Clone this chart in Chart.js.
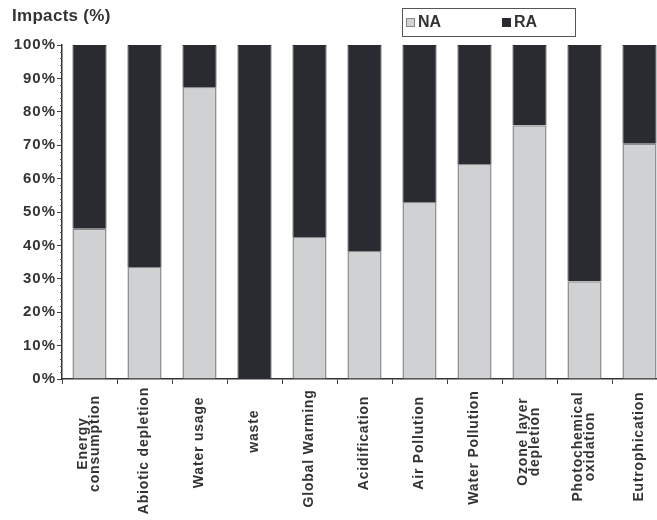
<!DOCTYPE html>
<html>
<head>
<meta charset="utf-8">
<script src="https://cdn.jsdelivr.net/npm/chart.js@4.4.1/dist/chart.umd.min.js"></script>
<style>
  html, body { margin: 0; padding: 0; background: #fff; overflow: hidden; }
  #wrap { position: relative; width: 672px; height: 520px; }
  #title { position: absolute; left: 12px; top: 6px; font: bold 17px "Liberation Sans", Arial, sans-serif; color: #333; letter-spacing: 0.3px; }
  #legend { position: absolute; left: 402px; top: 8px; width: 172px; height: 27px; border: 1px solid #555; font: bold 16px "Liberation Sans", Arial, sans-serif; color: #333; }
  #legend span.sw { display: inline-block; width: 9px; height: 9px; margin-right: 3px; }
  #legend .it { position: absolute; top: 4px; }
</style>
</head>
<body>
<div id="wrap">
  <canvas id="chart" width="672" height="520"></canvas>
  <div id="title">Impacts (%)</div>
  <div id="legend">
    <div class="it" style="left:3px"><span class="sw" style="background:#d2d3d5;border:1px solid #888;width:7px;height:7px"></span>NA</div>
    <div class="it" style="left:99px"><span class="sw" style="background:#2a2b30"></span>RA</div>
  </div>
</div>
<script>
document.addEventListener('DOMContentLoaded', () => {
    // categories and values (percent share of each impact)
    const categories = [
        ['Energy', 'consumption'], 'Abiotic depletion', 'Water usage', 'waste',
        'Global Warming', 'Acidification', 'Air Pollution', 'Water Pollution',
        ['Ozone layer', 'depletion'], ['Photochemical', 'oxidation'], 'Eutrophication'
    ];
    const naValues = [45, 33.5, 87.4, 0, 42.5, 38.3, 53, 64.4, 76, 29.3, 70.4];
    const raValues = [55, 66.5, 12.6, 100, 57.5, 61.7, 47, 35.6, 24, 70.7, 29.6];
    const yTicks = [0, 10, 20, 30, 40, 50, 60, 70, 80, 90, 100];

    const fontFamily = '"Liberation Sans", Arial, sans-serif';

    // wider letter spacing like the scanned original
    const spacing = {
        id: 'spacing',
        beforeDraw(chart) { chart.ctx.letterSpacing = '1px'; }
    };

    // small minor ticks on the y axis
    const minorTicks = {
        id: 'minorTicks',
        afterDraw(chart) {
            const y = chart.scales.y;
            const ctx = chart.ctx;
            const left = chart.chartArea.left;
            ctx.save();
            ctx.strokeStyle = '#555';
            ctx.lineWidth = 1;
            for (let v = 0; v <= 100; v += 2) {
                if (yTicks.includes(v)) continue;
                const py = Math.round(y.getPixelForValue(v)) + 0.5;
                ctx.beginPath();
                ctx.moveTo(left - 2, py);
                ctx.lineTo(left, py);
                ctx.stroke();
            }
            ctx.restore();
        }
    };

    // rotated category labels, lines centred on each other
    const xLabels = {
        id: 'xLabels',
        afterDraw(chart) {
            const x = chart.scales.x;
            const ctx = chart.ctx;
            const base = chart.chartArea.bottom + 8;
            const lineH = 12;
            ctx.save();
            ctx.font = 'bold 14px ' + fontFamily;
            ctx.letterSpacing = '0.8px';
            ctx.fillStyle = '#333';
            ctx.textAlign = 'center';
            ctx.textBaseline = 'middle';
            const lines = categories.map(c => Array.isArray(c) ? c : [c]);
            const widths = lines.map(ls => Math.max(...ls.map(l => ctx.measureText(l).width)));
            const maxW = Math.max(...widths);
            lines.forEach((ls, i) => {
                const w = widths[i];
                const top = base + 0.27 * (maxW - w);
                ctx.save();
                ctx.translate(x.getPixelForValue(i), top + w / 2);
                ctx.rotate(-Math.PI / 2);
                ls.forEach((l, j) => {
                    ctx.fillText(l, 0, (j - (ls.length - 1) / 2) * lineH);
                });
                ctx.restore();
            });
            ctx.restore();
        }
    };

    const ctx = document.getElementById('chart').getContext('2d');
    new Chart(ctx, {
        type: 'bar',
        data: {
            labels: categories,
            datasets: [
                {
                    label: 'NA',
                    data: naValues,
                    backgroundColor: '#d0d1d3',
                    borderColor: '#8a8b8d',
                    borderWidth: 1.5
                },
                {
                    label: 'RA',
                    data: raValues,
                    backgroundColor: '#2a2b30',
                    borderColor: '#2a2b30',
                    borderWidth: 1
                }
            ]
        },
        options: {
            responsive: false,
            animation: false,
            layout: { padding: { top: 45, right: 5, left: 0, bottom: 0 } },
            datasets: { bar: { barPercentage: 0.62, categoryPercentage: 1 } },
            plugins: {
                legend: { display: false },
                tooltip: { enabled: false }
            },
            scales: {
                x: {
                    stacked: true,
                    grid: { offset: true, drawOnChartArea: false, tickLength: 5, color: '#444' },
                    border: { color: '#333', width: 1.5 },
                    ticks: { display: false },
                    afterFit: scale => { scale.height = 141; }
                },
                y: {
                    stacked: true,
                    min: 0,
                    max: 100,
                    grid: { drawOnChartArea: false, tickLength: 5, color: '#444' },
                    border: { color: '#333', width: 1.5 },
                    ticks: {
                        stepSize: 10,
                        padding: 1,
                        color: '#333',
                        callback: v => v + '%',
                        font: { family: fontFamily, size: 15, weight: 'bold' }
                    },
                    afterFit: scale => { scale.width = 62; }
                }
            }
        },
        plugins: [spacing, minorTicks, xLabels]
    });
});
</script>
</body>
</html>
